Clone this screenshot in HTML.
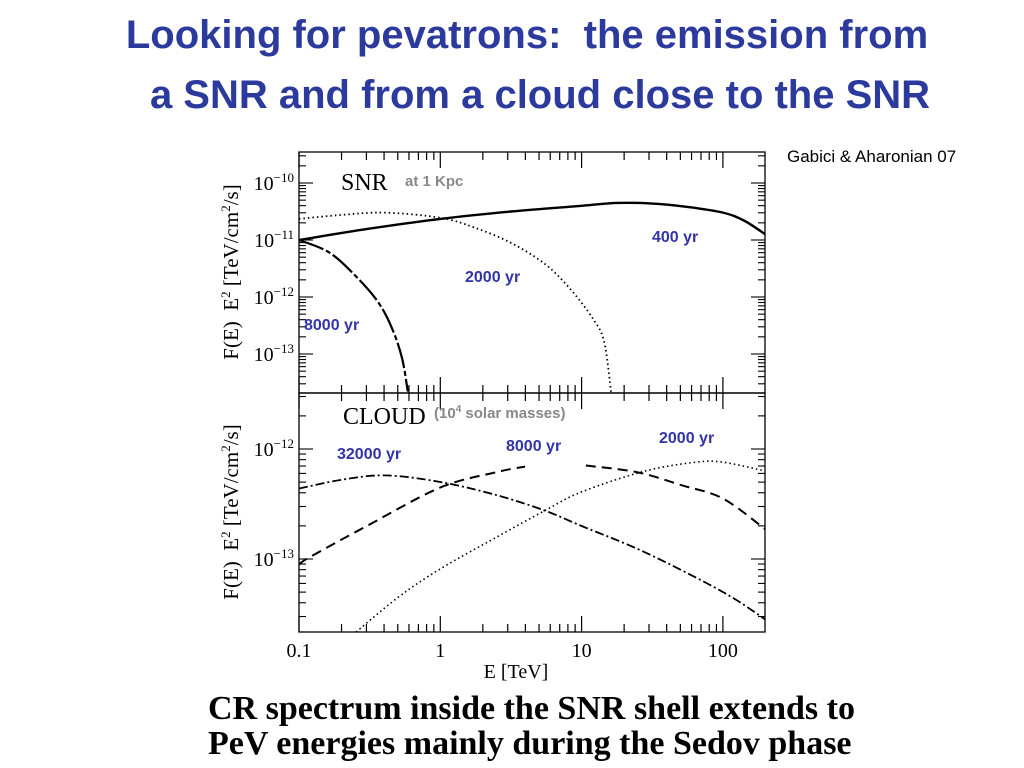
<!DOCTYPE html>
<html><head><meta charset="utf-8">
<style>
body{margin:0;background:#fff;width:1024px;height:768px;overflow:hidden;position:relative;font-family:"Liberation Sans",sans-serif}
.t{position:absolute;width:1200px;text-align:center;color:#2b3a9c;font-weight:bold;font-size:40px;white-space:nowrap}
.cap{position:absolute;left:208px;font-family:"Liberation Serif",serif;font-weight:bold;font-size:34px;color:#000;white-space:nowrap}
</style></head><body>
<div class="t" style="top:13px;left:-73px">Looking for pevatrons:&nbsp; the emission from</div>
<div class="t" style="top:73px;left:-60px">a SNR and from a cloud close to the SNR</div>
<div style="position:absolute;left:787px;top:147px;font-size:17px">Gabici &amp; Aharonian 07</div>
<div class="cap" style="top:690px">CR spectrum inside the SNR shell extends to</div>
<div class="cap" style="top:725px">PeV energies mainly during the Sedov phase</div>
<svg id="chart" width="1024" height="768" style="position:absolute;left:0;top:0" xmlns="http://www.w3.org/2000/svg"></svg>
<script>
// x: log10(E/TeV); y: log10 flux
const xTickLabels=["0.1","1","10","100"];
const topYTicks=[-10,-11,-12,-13];
const botYTicks=[-12,-13];
const snr400E=[-1,-0.5,0,0.5,1,1.25,1.5,1.75,2,2.15,2.3];
const snr400F=[-11,-10.8,-10.63,-10.5,-10.4,-10.35,-10.36,-10.42,-10.52,-10.66,-10.9];
const snr2000E=[-1,-0.7,-0.39,0,0.24,0.5,0.74,0.92,1.08,1.16,1.21];
const snr2000F=[-10.63,-10.56,-10.52,-10.61,-10.78,-11.05,-11.42,-11.86,-12.38,-12.79,-13.7];
const snr8000E=[-1,-0.785,-0.6,-0.44,-0.34,-0.27,-0.23];
const snr8000F=[-11,-11.22,-11.63,-12.09,-12.56,-13.08,-13.66];
const cl32000E=[-1,-0.7,-0.39,0,0.4,0.74,1,1.45,2,2.3];
const cl32000F=[-12.36,-12.28,-12.24,-12.3,-12.42,-12.56,-12.7,-12.94,-13.3,-13.55];
const cl8000aE=[-1,-0.92,-0.52,0,0.4,0.6];
const cl8000aF=[-13.05,-12.98,-12.7,-12.35,-12.21,-12.16];
const cl8000bE=[1.03,1.39,1.71,2,2.3];
const cl8000bF=[-12.15,-12.21,-12.33,-12.45,-12.73];
const cl2000E=[-0.62,-0.3,0,0.4,0.74,1,1.45,1.81,2,2.3];
const cl2000F=[-13.69,-13.35,-13.09,-12.8,-12.56,-12.39,-12.2,-12.12,-12.12,-12.2];

const NS="http://www.w3.org/2000/svg";
const svg=document.getElementById('chart');
const X0=299,X1=765,DEC=141.3;
function xs(l){return X0+(l+1)*DEC;}
const TOP={top:152,bot:393,y0:-10,py0:183,dec:57};
const BOT={top:393,bot:632,y0:-12,py0:449,dec:110};
function ys(p,v){return p.py0+(p.y0-v)*p.dec;}
function mk(tag,attrs){const e=document.createElementNS(NS,tag);for(const k in attrs)e.setAttribute(k,attrs[k]);svg.appendChild(e);return e;}
function frame(p,name){
  const r=mk('rect',{x:X0,y:p.top,width:X1-X0,height:p.bot-p.top,fill:'none',stroke:'#000','stroke-width':1.3});
  
  
  for(let d=-1;d<=2;d++){for(let m=1;m<=9;m++){const l=d+Math.log10(m);const x=xs(l);if(x>X1)continue;
    const len=m===1?16:8;
    mk('line',{x1:x,y1:p.bot,x2:x,y2:p.bot-len,stroke:'#000','stroke-width':1.2});
    mk('line',{x1:x,y1:p.top,x2:x,y2:p.top+len,stroke:'#000','stroke-width':1.2});}}
  const lo=p.y0-(p.bot-p.py0)/p.dec,hi=p.y0+(p.py0-p.top)/p.dec;
  for(let d=Math.floor(lo);d<=Math.ceil(hi);d++){for(let m=1;m<=9;m++){const v=d+Math.log10(m);if(v<lo||v>hi)continue;
    const y=ys(p,v);const len=m===1?14:7;
    mk('line',{x1:X0,y1:y,x2:X0+len,y2:y,stroke:'#000','stroke-width':1.1});
    mk('line',{x1:X1,y1:y,x2:X1-len,y2:y,stroke:'#000','stroke-width':1.1});}}
}
frame(TOP,'snr-panel');frame(BOT,'cloud-panel');
function yLabels(p,arr,name){arr.forEach(v=>{const t=mk('text',{x:294,y:ys(p,v)+7,'text-anchor':'end','font-family':'Liberation Serif, serif','font-size':20});
  
  
  t.innerHTML='10<tspan dy="-8" font-size="13">−'+(-v)+'</tspan>';});}
yLabels(TOP,topYTicks,'snr-y');yLabels(BOT,botYTicks,'cloud-y');
xTickLabels.forEach((s,i)=>{const t=mk('text',{x:xs(i-1),y:657,'text-anchor':'middle','font-family':'Liberation Serif, serif','font-size':20});
  
  
  t.textContent=s;});
function txt(x,y,s,attrs,name){const t=mk('text',Object.assign({x:x,y:y},attrs));t.innerHTML=s;return t;}
txt(516,678,'E [TeV]',{'text-anchor':'middle','font-family':'Liberation Serif, serif','font-size':20},'x-axis-title');
const yt='F(E)&#160; E<tspan dy="-8" font-size="13">2</tspan><tspan dy="8"> [TeV/cm</tspan><tspan dy="-8" font-size="13">2</tspan><tspan dy="8">/s]</tspan>';
txt(0,0,yt,{transform:'translate(238,272) rotate(-90)','text-anchor':'middle','font-family':'Liberation Serif, serif','font-size':21},'snr-y-axis-title');
txt(0,0,yt,{transform:'translate(238,512) rotate(-90)','text-anchor':'middle','font-family':'Liberation Serif, serif','font-size':21},'cloud-y-axis-title');
txt(341,190,'SNR',{'font-family':'Liberation Serif, serif','font-size':24},'snr-panel-label');
txt(405,186,'at 1 Kpc',{'font-weight':'bold','font-size':15,fill:'#888'},'snr-distance-note');
txt(343,424,'CLOUD',{'font-family':'Liberation Serif, serif','font-size':24},'cloud-panel-label');
txt(434,418,'(10<tspan dy="-6" font-size="10">4</tspan><tspan dy="6"> solar masses)</tspan>',{'font-weight':'bold','font-size':15,fill:'#888'},'cloud-mass-note');
const B={'font-weight':'bold','font-size':16,fill:'#3333aa'};
txt(652,242,'400 yr',B,'label-400yr');
txt(465,282,'2000 yr',B,'label-snr-2000yr');
txt(304,330,'8000 yr',B,'label-snr-8000yr');
txt(337,459,'32000 yr',B,'label-32000yr');
txt(506,451,'8000 yr',B,'label-cloud-8000yr');
txt(659,443,'2000 yr',B,'label-cloud-2000yr');
function line(p,E,F,dash,w,name){
  const pts=E.map((e,i)=>[xs(e),ys(p,F[i])]);
  let d='M'+pts[0][0]+','+pts[0][1];
  for(let i=0;i<pts.length-1;i++){const p0=pts[Math.max(0,i-1)],p1=pts[i],p2=pts[i+1],p3=pts[Math.min(pts.length-1,i+2)];
    d+=' C'+(p1[0]+(p2[0]-p0[0])/6)+','+(p1[1]+(p2[1]-p0[1])/6)+' '+(p2[0]-(p3[0]-p1[0])/6)+','+(p2[1]-(p3[1]-p1[1])/6)+' '+p2[0]+','+p2[1];}
  const e=mk('path',{d:d,fill:'none',stroke:'#000','stroke-width':w,'stroke-dasharray':dash,'clip-path':'url(#'+(p===TOP?'ct':'cb')+')'});
  
  
}
const defs=document.createElementNS(NS,'defs');svg.appendChild(defs);
defs.innerHTML='<clipPath id="ct"><rect x="299" y="152" width="466" height="241"/></clipPath><clipPath id="cb"><rect x="299" y="393" width="466" height="239"/></clipPath>';
line(TOP,snr400E,snr400F,'none',2.4,'snr-400yr-line');
line(TOP,snr2000E,snr2000F,'1.5,3',1.8,'snr-2000yr-line');
line(TOP,snr8000E,snr8000F,'26,3,5,3',2.2,'snr-8000yr-line');
line(BOT,cl32000E,cl32000F,'9,3,2,3',1.8,'cloud-32000yr-line');
line(BOT,cl8000aE,cl8000aF,'10,6',2,'cloud-8000yr-line-low');
line(BOT,cl8000bE,cl8000bF,'10,6',2,'cloud-8000yr-line-high');
line(BOT,cl2000E,cl2000F,'1.5,3',1.6,'cloud-2000yr-line');
</script>
</body></html>
